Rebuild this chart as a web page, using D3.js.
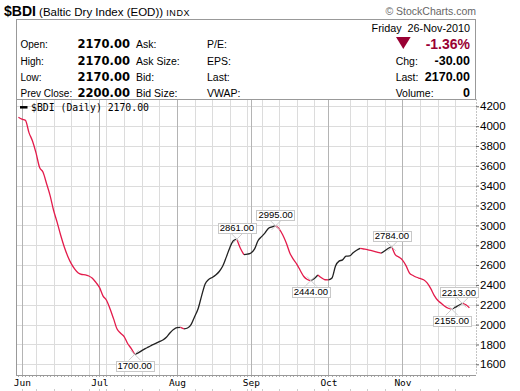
<!DOCTYPE html>
<html>
<head>
<meta charset="utf-8">
<script src="https://cdn.jsdelivr.net/npm/d3@7"></script>
<style>
	body { margin: 0; background: #fff; }
	text { font-family: 'Liberation Sans', Arial, sans-serif; }
</style>
</head>
<body>
<div id="chart"></div>
<script>
// trading days (UK holidays May 31 and Aug 30 have no print)
const dates = [
	'2010-05-28',
	'2010-06-01', '2010-06-02', '2010-06-03', '2010-06-04',
	'2010-06-07', '2010-06-08', '2010-06-09', '2010-06-10', '2010-06-11',
	'2010-06-14', '2010-06-15', '2010-06-16', '2010-06-17', '2010-06-18',
	'2010-06-21', '2010-06-22', '2010-06-23', '2010-06-24', '2010-06-25',
	'2010-06-28', '2010-06-29', '2010-06-30', '2010-07-01', '2010-07-02',
	'2010-07-05', '2010-07-06', '2010-07-07', '2010-07-08', '2010-07-09',
	'2010-07-12', '2010-07-13', '2010-07-14', '2010-07-15', '2010-07-16',
	'2010-07-19', '2010-07-20', '2010-07-21', '2010-07-22', '2010-07-23',
	'2010-07-26', '2010-07-27', '2010-07-28', '2010-07-29', '2010-07-30',
	'2010-08-02', '2010-08-03', '2010-08-04', '2010-08-05', '2010-08-06',
	'2010-08-09', '2010-08-10', '2010-08-11', '2010-08-12', '2010-08-13',
	'2010-08-16', '2010-08-17', '2010-08-18', '2010-08-19', '2010-08-20',
	'2010-08-23', '2010-08-24', '2010-08-25', '2010-08-26', '2010-08-27',
	'2010-08-31', '2010-09-01', '2010-09-02', '2010-09-03',
	'2010-09-06', '2010-09-07', '2010-09-08', '2010-09-09', '2010-09-10',
	'2010-09-13', '2010-09-14', '2010-09-15', '2010-09-16', '2010-09-17',
	'2010-09-20', '2010-09-21', '2010-09-22', '2010-09-23', '2010-09-24',
	'2010-09-27', '2010-09-28', '2010-09-29', '2010-09-30', '2010-10-01',
	'2010-10-04', '2010-10-05', '2010-10-06', '2010-10-07', '2010-10-08',
	'2010-10-11', '2010-10-12', '2010-10-13', '2010-10-14', '2010-10-15',
	'2010-10-18', '2010-10-19', '2010-10-20', '2010-10-21', '2010-10-22',
	'2010-10-25', '2010-10-26', '2010-10-27', '2010-10-28', '2010-10-29',
	'2010-11-01', '2010-11-02', '2010-11-03', '2010-11-04', '2010-11-05',
	'2010-11-08', '2010-11-09', '2010-11-10', '2010-11-11', '2010-11-12',
	'2010-11-15', '2010-11-16', '2010-11-17', '2010-11-18', '2010-11-19',
	'2010-11-22', '2010-11-23', '2010-11-24', '2010-11-25', '2010-11-26'
];

const closes = [
	4090,
	4070, 4058, 3935, 3850,
	3730, 3585, 3535, 3420, 3300,
	3150, 3030, 2900, 2785, 2690,
	2615, 2560, 2520, 2505, 2502,
	2490, 2467, 2425, 2375, 2290,
	2245, 2160, 2060, 1955, 1913,
	1880, 1810, 1760, 1700, 1715,
	1738, 1758, 1775, 1795, 1810,
	1828, 1845, 1872, 1915, 1950,
	1970, 1972, 1958, 1966, 2000,
	2080, 2160, 2290, 2410, 2455,
	2475, 2500, 2535, 2590, 2680,
	2775, 2845, 2861, 2770, 2705,
	2710, 2722, 2760, 2845,
	2886, 2925, 2970, 2985, 2995,
	2965, 2905, 2825, 2725, 2660,
	2610, 2545, 2485, 2455, 2444,
	2465, 2500, 2472, 2452, 2450,
	2470, 2590, 2640, 2652, 2690,
	2692, 2725, 2750, 2769, 2762,
	2755, 2747, 2738, 2728, 2719,
	2745, 2770, 2784, 2702, 2680,
	2650, 2595, 2520, 2495, 2477,
	2465, 2452, 2420, 2365, 2295,
	2245, 2215, 2185, 2165, 2155,
	2175, 2195, 2213, 2200, 2170
];

const markDates = ['2010-07-15', '2010-08-25', '2010-09-10', '2010-09-24', '2010-10-27', '2010-11-19', '2010-11-24'];
const markSides = ['below', 'above', 'above', 'below', 'above', 'below', 'above'];

const yTickValues = [1600, 1800, 2000, 2200, 2400, 2600, 2800, 3000, 3200, 3400, 3600, 3800, 4000, 4200];

const quoteLabels = ['Open:', 'High:', 'Low:', 'Prev Close:'];
const quoteValues = ['2170.00', '2170.00', '2170.00', '2200.00'];
const bidLabels = ['Ask:', 'Ask Size:', 'Bid:', 'Bid Size:'];
const statLabels = ['P/E:', 'EPS:', 'Last:', 'VWAP:'];
const summaryLabels = ['Chg:', 'Last:', 'Volume:'];
const summaryValues = ['-30.00', '2170.00', '0'];

const w = 520;
const h = 391;
const plotLeft = 16;
const plotRight = 476;
const plotTop = 99.5;
const plotBottom = 375;
const red = '#e31b4b';
const dark = '#990033';

const parse = d3.timeParse('%Y-%m-%d');
const fmtMonth = d3.timeFormat('%b');

const svg = d3.select('#chart').append('svg')
	.attr('width', w)
	.attr('height', h);

// header
const title = svg.append('text')
	.attr('x', 4)
	.attr('y', 16);
title.append('tspan')
	.style('font-weight', 'bold')
	.style('font-size', '14px')
	.text('$BDI');
title.append('tspan')
	.style('font-size', '11.5px')
	.text(' (Baltic Dry Index (EOD))');
title.append('tspan')
	.style('font-size', '9px')
	.style('letter-spacing', '0.6px')
	.text(' INDX');

svg.append('text')
	.attr('x', 476)
	.attr('y', 15)
	.attr('text-anchor', 'end')
	.style('font-size', '10.5px')
	.style('fill', '#666')
	.text('© StockCharts.com');

svg.append('rect')
	.attr('x', plotLeft + 0.5)
	.attr('y', 19.5)
	.attr('width', plotRight - plotLeft - 1)
	.attr('height', plotTop - 19.5)
	.style('fill', 'none')
	.style('stroke', '#999');

const rowY = [48.3, 65, 81, 97];

const addColumn = (labels, xPos, anchor, style) => {
	labels.forEach((t, i) => {
		svg.append('text')
			.attr('x', xPos)
			.attr('y', rowY[i])
			.attr('text-anchor', anchor)
			.style('font-size', style.size)
			.style('font-weight', style.weight || 'normal')
			.style('font-family', style.family || null)
			.text(t);
	});
};

addColumn(quoteLabels, 20.5, 'start', { size: '10px' });
addColumn(quoteValues, 130, 'end', { size: '11.5px', weight: 'bold', family: 'DejaVu Sans' });
addColumn(bidLabels, 136, 'start', { size: '10.5px' });
addColumn(statLabels, 207, 'start', { size: '10.5px' });

svg.append('text')
	.attr('x', 470)
	.attr('y', 32)
	.attr('text-anchor', 'end')
	.style('font-size', '10.8px')
	.style('white-space', 'pre')
	.text('Friday  26-Nov-2010');

svg.append('path')
	.attr('d', 'M396,37L410.7,37L403.3,49Z')
	.style('fill', dark);

svg.append('text')
	.attr('x', 470)
	.attr('y', 48.5)
	.attr('text-anchor', 'end')
	.style('font-size', '14px')
	.style('font-weight', 'bold')
	.style('fill', dark)
	.text('-1.36%');

summaryLabels.forEach((t, i) => {
	svg.append('text')
		.attr('x', 395.7)
		.attr('y', rowY[i + 1] - 0.5)
		.style('font-size', '10.5px')
		.text(t);
	svg.append('text')
		.attr('x', 470)
		.attr('y', rowY[i + 1] - 0.5)
		.attr('text-anchor', 'end')
		.style('font-size', '12.5px')
		.style('font-weight', 'bold')
		.text(summaryValues[i]);
});

// scales
const x = d3.scalePoint()
	.domain(dates)
	.range([18.4, 469.4]);

const y = d3.scaleLinear()
	.domain([1600, 4200])
	.range([364.3, 106.3]);

// grid
const monthStarts = dates.filter((d, i) => i > 0 && parse(d).getMonth() !== parse(dates[i - 1]).getMonth());
const weekStarts = dates.filter((d, i) => i > 0
	&& +d3.timeMonday.floor(parse(d)) !== +d3.timeMonday.floor(parse(dates[i - 1]))
	&& !monthStarts.includes(d)
	&& !monthStarts.includes(dates[i - 1]));

const grid = svg.append('g');

grid.selectAll('.hgrid')
	.data(yTickValues)
	.enter().append('line')
	.attr('x1', plotLeft)
	.attr('x2', plotRight)
	.attr('y1', d => Math.round(y(d)) + 0.5)
	.attr('y2', d => Math.round(y(d)) + 0.5)
	.style('stroke', '#dcdcdc');

grid.selectAll('.wgrid')
	.data(weekStarts)
	.enter().append('line')
	.attr('x1', d => Math.round(x(d)) + 0.5)
	.attr('x2', d => Math.round(x(d)) + 0.5)
	.attr('y1', plotTop)
	.attr('y2', plotBottom)
	.style('stroke', '#dcdcdc');

grid.selectAll('.mgrid')
	.data(monthStarts)
	.enter().append('line')
	.attr('x1', d => Math.round(x(d)) + 0.5)
	.attr('x2', d => Math.round(x(d)) + 0.5)
	.attr('y1', plotTop)
	.attr('y2', plotBottom)
	.style('stroke', '#b4b4b4');

// bits of the next panel's grid peeking at the bottom
grid.selectAll('.stub')
	.data(weekStarts.concat(monthStarts))
	.enter().append('line')
	.attr('x1', d => Math.round(x(d)) + 0.5)
	.attr('x2', d => Math.round(x(d)) + 0.5)
	.attr('y1', 389)
	.attr('y2', 391)
	.style('stroke', '#ccc');

// frame
svg.append('path')
	.attr('d', `M${plotLeft + 0.5},${plotBottom}V${plotTop}H${plotRight}`)
	.style('fill', 'none')
	.style('stroke', '#999');

svg.append('line')
	.attr('x1', plotRight + 0.5)
	.attr('x2', plotRight + 0.5)
	.attr('y1', plotTop)
	.attr('y2', plotBottom)
	.style('stroke', '#888')
	.style('stroke-dasharray', '1,2');

svg.append('line')
	.attr('x1', plotLeft)
	.attr('x2', plotRight)
	.attr('y1', plotBottom + 0.5)
	.attr('y2', plotBottom + 0.5)
	.style('stroke', '#999');

svg.append('g')
	.selectAll('line')
	.data(dates)
	.enter().append('line')
	.attr('x1', d => Math.round(x(d)) + 0.5)
	.attr('x2', d => Math.round(x(d)) + 0.5)
	.attr('y1', plotBottom + 1)
	.attr('y2', plotBottom + 2)
	.style('stroke', '#aaa');

// axes
const yAxis = svg.append('g')
	.attr('transform', `translate(${plotRight},0)`)
	.call(d3.axisRight(y)
		.tickValues(yTickValues)
		.tickFormat(d3.format('d'))
		.tickSize(3)
		.tickPadding(1));
yAxis.select('.domain').remove();
yAxis.selectAll('text')
	.style('font-family', "'Liberation Sans', Arial, sans-serif")
	.style('font-size', '11.5px')
	.style('fill', '#000');
yAxis.selectAll('line').style('stroke', '#666');

const xAxis = svg.append('g')
	.attr('transform', `translate(0,${plotBottom})`)
	.call(d3.axisBottom(x)
		.tickValues(monthStarts)
		.tickFormat(d => fmtMonth(parse(d)))
		.tickSize(0)
		.tickPadding(4.5));
xAxis.select('.domain').remove();
xAxis.selectAll('text')
	.style('font-family', "'DejaVu Sans Mono', monospace")
	.style('font-size', '9.5px')
	.style('fill', '#000');

// legend
svg.append('line')
	.attr('x1', 20)
	.attr('x2', 27.5)
	.attr('y1', 107.3)
	.attr('y2', 107.3)
	.style('stroke', '#000')
	.style('stroke-width', 2.5);

svg.append('text')
	.attr('x', 31)
	.attr('y', 111)
	.style('font-family', "'DejaVu Sans Mono', monospace")
	.style('font-size', '9.8px')
	.text(`$BDI (Daily) ${closes[closes.length - 1].toFixed(2)}`);

// price line, segments coloured by direction
const points = dates.map((d, i) => ({ date: d, value: closes[i] }));
const runs = [];
for (let i = 1; i < points.length; i++) {
	const down = points[i].value < points[i - 1].value;
	const last = runs[runs.length - 1];
	if (last && last.down === down) {
		last.pts.push(points[i]);
	} else {
		runs.push({ down: down, pts: [points[i - 1], points[i]] });
	}
}

const line = d3.line()
	.x(d => x(d.date))
	.y(d => y(d.value))
	.curve(d3.curveMonotoneX);

svg.append('g')
	.selectAll('path')
	.data(runs)
	.enter().append('path')
	.attr('d', d => line(d.pts))
	.style('fill', 'none')
	.style('stroke', d => d.down ? red : '#222')
	.style('stroke-width', 1.3)
	.style('stroke-linejoin', 'round');

// high/low callouts
const marks = svg.append('g');
markDates.forEach((d, i) => {
	const v = closes[dates.indexOf(d)];
	const px = x(d);
	const py = y(v);
	const above = markSides[i] === 'above';
	const s = above ? -1 : 1;

	marks.append('path')
		.attr('d', `M${px - 6},${py + s * 6}L${px + 4},${py - s * 4}M${px + 6},${py + s * 6}L${px - 4},${py - s * 4}`)
		.style('stroke', '#ccc')
		.style('fill', 'none');

	const g = marks.append('g');
	const rect = g.append('rect');
	const t = g.append('text')
		.attr('text-anchor', 'middle')
		.style('font-size', '9.5px')
		.text(v.toFixed(2));
	const bw = t.node().getComputedTextLength() + 4;
	const bh = 10;
	let bx = px - bw / 2;
	if (bx + bw > 478) bx = 478 - bw;
	const by = above ? py - 6 - bh : py + 6.5;
	t.attr('x', bx + bw / 2).attr('y', by + 8.3);
	rect.attr('x', Math.round(bx) + 0.5)
		.attr('y', Math.round(by) + 0.5)
		.attr('width', Math.round(bw))
		.attr('height', bh)
		.style('fill', '#fff')
		.style('stroke', '#c8c8c8');
});
</script>
</body>
</html>
